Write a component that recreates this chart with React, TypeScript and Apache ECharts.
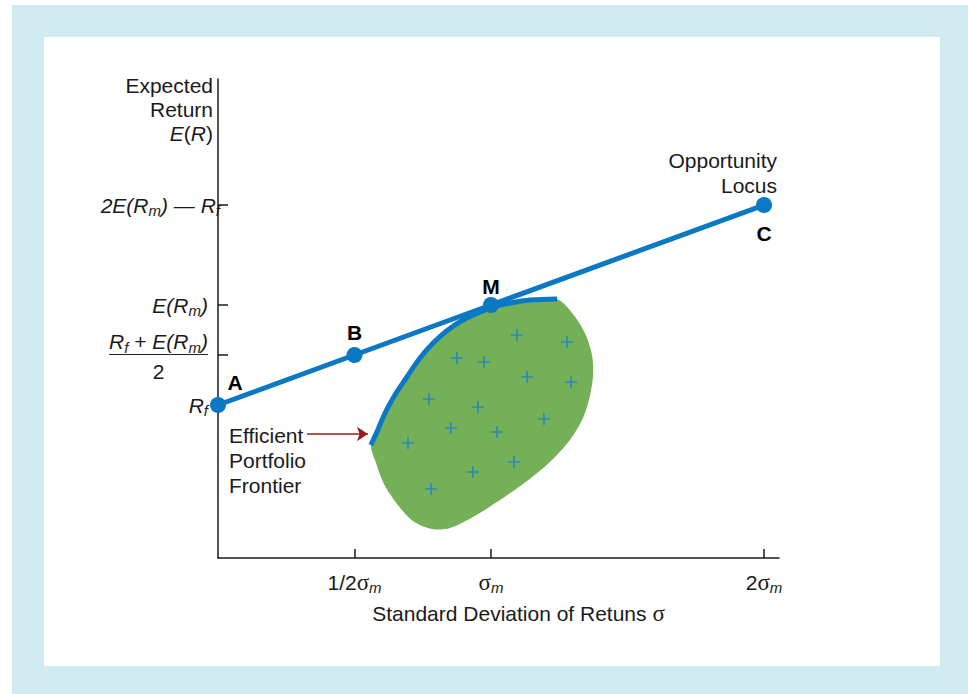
import React, { useEffect, useRef } from "react";
import * as echarts from "echarts";

// ---- data (x in units of sigma_m, y in return units: Rf = 1, E(Rm) = 2) ----
const xTickValues = [0.5, 1, 2];
const xTickLabels = ["1/2σm", "σm", "2σm"];
const yTickValues = [1.5, 2, 3];
const yLabelValues = [1, 1.5, 2, 3];

const locusNames = ["A", "B", "M", "C"];
const locusX = [0, 0.5, 1, 2];
const locusY = [1, 1.5, 2, 3];

const frontier: number[][] = [
  [0.56, 0.6], [0.582, 0.73], [0.612, 0.92], [0.648, 1.1], [0.692, 1.28],
  [0.74, 1.47], [0.788, 1.62], [0.842, 1.75], [0.897, 1.85], [0.96, 1.93],
  [1.007, 1.98], [1.07, 2.02], [1.143, 2.05], [1.242, 2.06],
];
const blobEdge: number[][] = [
  [1.3, 1.91], [1.344, 1.72], [1.37, 1.5], [1.374, 1.3], [1.363, 1.1],
  [1.337, 0.87], [1.289, 0.65], [1.216, 0.43], [1.132, 0.24], [1.033, 0.05],
  [0.934, -0.12], [0.85, -0.23], [0.784, -0.24], [0.714, -0.16], [0.656, 0.01],
  [0.608, 0.21], [0.579, 0.42],
];
const portfolios: number[][] = [
  [1.095, 1.7], [1.278, 1.63], [0.875, 1.47], [0.974, 1.43], [1.132, 1.28],
  [1.293, 1.23], [0.773, 1.06], [0.952, 0.98], [1.194, 0.86], [0.853, 0.77],
  [1.022, 0.73], [0.696, 0.62], [1.084, 0.43], [0.934, 0.33], [0.78, 0.16],
];
const arrowFrom = [0.326, 0.71];
const arrowTo = [0.549, 0.71];

const SANS = "Liberation Sans, Arial, Helvetica, sans-serif";
const SERIF = "Liberation Serif, Times New Roman, serif";
const INK = "#1a1a1a";
const BLUE = "#0b78c4";
const FS = 21;

const rich: any = {
  n: { fontSize: FS, fontFamily: SANS, color: INK },
  i: { fontSize: FS, fontFamily: SANS, fontStyle: "italic", color: INK },
  s: { fontSize: 15, fontFamily: SANS, fontStyle: "italic", color: INK, padding: [11, 0, 0, 0] },
  sl: { fontSize: 15, fontFamily: SANS, fontStyle: "italic", color: INK, padding: [11, -12, 0, 0] },
  g: { fontSize: 23, fontFamily: SERIF, color: INK },
  hr: { width: "100%", height: 0, borderColor: INK, borderWidth: 0.8 },
  c: { fontSize: FS, fontFamily: SANS, color: INK, align: "center", padding: [6, 0, 0, 0] },
};

function yLabel(v: number): string {
  if (v === 1) return "{i|R}{s|f}";
  if (v === 1.5) return "{i|R}{s|f}{n| + }{i|E(R}{s|m}{i|)}\n{hr|}\n{c|2}";
  if (v === 2) return "{i|E(R}{s|m}{i|)}";
  if (v === 3) return "{i|2E(R}{s|m}{i|) — R}{sl|f}";
  return "";
}
function xLabel(v: number): string {
  const k = xTickValues.indexOf(v);
  if (k < 0) return "";
  const t = xTickLabels[k];
  const pre = t.replace("σm", "");
  return (pre ? "{n|" + pre + "}" : "") + "{g|σ}{s|m}";
}

export default function App() {
  const ref = useRef<HTMLDivElement>(null);
  useEffect(() => {
    if (!ref.current) return;
    const chart = echarts.init(ref.current, null, { renderer: "svg" });
    const polygonPts = frontier.concat(blobEdge);
    chart.setOption({
      animation: false,
      grid: { left: 218, right: 189, top: 79, bottom: 136, containLabel: false },
      xAxis: {
        type: "value",
        min: 0,
        max: 2.055,
        splitLine: { show: false },
        axisLine: { show: true, onZero: false, lineStyle: { color: INK, width: 1.5 } },
        axisTick: { show: true, inside: true, length: 9, customValues: xTickValues, lineStyle: { color: INK, width: 1.5 } },
        axisLabel: { show: true, customValues: xTickValues, margin: 11, formatter: xLabel, rich },
        name: "Standard Deviation of Retuns {g|σ}",
        nameLocation: "middle",
        nameGap: 44,
        nameTextStyle: { fontSize: FS, fontFamily: SANS, color: INK, padding: [0, 0, 0, 40], rich },
      },
      yAxis: {
        type: "value",
        min: -0.53,
        max: 4.26,
        splitLine: { show: false },
        axisLine: { show: true, onZero: false, lineStyle: { color: INK, width: 1.5 } },
        axisTick: { show: true, inside: true, length: 10, customValues: yTickValues, lineStyle: { color: INK, width: 1.5 } },
        axisLabel: { show: true, customValues: yLabelValues, margin: 10, formatter: yLabel, rich },
        name: "{n|Expected}\n{n|Return}\n{i|E}{n|(}{i|R}{n|)}",
        nameLocation: "end",
        nameGap: 6,
        nameTextStyle: { align: "right", verticalAlign: "top", padding: [0, 5, 0, 0], lineHeight: 24, rich: {
          n: { fontSize: FS, fontFamily: SANS, color: INK, lineHeight: 24 },
          i: { fontSize: FS, fontFamily: SANS, color: INK, fontStyle: "italic", lineHeight: 24 },
        } },
      },
      series: [
        {
          type: "custom",
          z: 1,
          silent: true,
          data: [[0, 0]],
          renderItem: (_p: any, api: any) => ({
            type: "polygon",
            shape: { points: polygonPts.map((p) => api.coord(p)), smooth: 0.3 },
            style: { fill: "#74b057" },
          }),
        },
        {
          type: "line",
          z: 3,
          data: frontier,
          smooth: 0.35,
          showSymbol: false,
          symbol: "none",
          lineStyle: { color: BLUE, width: 5 },
        },
        {
          type: "scatter",
          z: 4,
          data: portfolios,
          symbol: "path://M4.3,0H5.7V4.3H10V5.7H5.7V10H4.3V5.7H0V4.3H4.3Z",
          symbolSize: 12,
          itemStyle: { color: "#1c7fd2" },
        },
        {
          type: "lines",
          coordinateSystem: "cartesian2d",
          z: 4,
          symbol: ["none", "arrow"],
          symbolSize: 11,
          lineStyle: { color: "#9e1a1a", width: 1.6, opacity: 1 },
          data: [{ coords: [arrowFrom, arrowTo] }],
        },
        {
          type: "line",
          z: 5,
          data: locusNames.map((nm, k) => ({
            value: [locusX[k], locusY[k]],
            label: {
              show: true,
              formatter: nm,
              position: nm === "C" ? "bottom" : "top",
              distance: nm === "A" ? 4 : nm === "B" ? 4 : nm === "M" ? 0 : 10,
              offset: nm === "A" ? [17, 0] : [0, 0],
            },
          })),
          symbol: "circle",
          symbolSize: 16,
          showSymbol: true,
          itemStyle: { color: BLUE },
          lineStyle: { color: BLUE, width: 5 },
          label: { fontSize: 21, fontWeight: "bold", fontFamily: SANS, color: "#000" },
        },
      ],
      graphic: [
        {
          type: "text",
          x: 777,
          y: 148,
          style: {
            text: "Opportunity\nLocus",
            font: FS + "px " + SANS,
            lineHeight: 25,
            fill: INK,
            align: "right",
            textAlign: "right",
            verticalAlign: "top",
            textVerticalAlign: "top",
          },
        },
        {
          type: "text",
          x: 229,
          y: 423,
          style: {
            text: "Efficient\nPortfolio\nFrontier",
            font: FS + "px " + SANS,
            lineHeight: 25,
            fill: INK,
            align: "left",
            textAlign: "left",
            verticalAlign: "top",
            textVerticalAlign: "top",
          },
        },
      ],
    });
    return () => chart.dispose();
  }, []);

  return (
    <div style={{ position: "fixed", left: 0, top: 0, width: 968, height: 694, background: "#ffffff", overflow: "hidden" }}>
      <div style={{ position: "absolute", left: 12, top: 5, width: 956, height: 689, background: "#cfeaf0" }} />
      <div style={{ position: "absolute", left: 44, top: 37, width: 896, height: 629, background: "#ffffff" }} />
      <div ref={ref} style={{ position: "absolute", left: 0, top: 0, width: 968, height: 694 }} />
    </div>
  );
}
